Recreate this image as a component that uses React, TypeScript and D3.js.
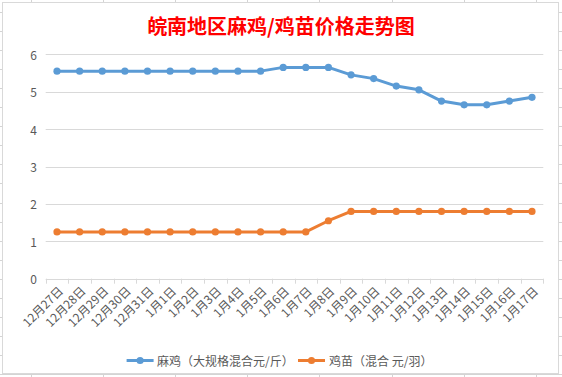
import React from "react";
import * as d3 from "d3";

const categories = [
  "12月27日", "12月28日", "12月29日", "12月30日", "12月31日",
  "1月1日", "1月2日", "1月3日", "1月4日", "1月5日", "1月6日", "1月7日",
  "1月8日", "1月9日", "1月10日", "1月11日", "1月12日", "1月13日",
  "1月14日", "1月15日", "1月16日", "1月17日",
];
const maji = [5.55, 5.55, 5.55, 5.55, 5.55, 5.55, 5.55, 5.55, 5.55, 5.55, 5.65, 5.65, 5.65, 5.45, 5.35, 5.15, 5.05, 4.75, 4.65, 4.65, 4.75, 4.85];
const jimiao = [1.25, 1.25, 1.25, 1.25, 1.25, 1.25, 1.25, 1.25, 1.25, 1.25, 1.25, 1.25, 1.55, 1.8, 1.8, 1.8, 1.8, 1.8, 1.8, 1.8, 1.8, 1.8];
const yTicks = [0, 1, 2, 3, 4, 5, 6];
const seriesNames = ["麻鸡（大规格混合元/斤）", "鸡苗（混合 元/羽）"];
const colors = ["#5b9bd5", "#ed7d31"];
const title = "皖南地区麻鸡/鸡苗价格走势图";

const W = 562, H = 377;
const FONT = "'Noto Sans CJK SC', 'Noto Sans', sans-serif";

export default function App() {
  const x = d3.scaleBand<string>().domain(categories).range([45.7, 543.3]);
  const y = d3.scaleLinear().domain([0, 6]).range([278.7, 54.3]);
  const cx = (c: string) => (x(c) as number) + x.bandwidth() / 2;
  const line = d3.line<number>().x((_, i) => cx(categories[i])).y((v) => y(v));
  const series = [maji, jimiao];

  const sheetCols = d3.range(0, 8).map((k) => 30.5 + 72.2 * k);
  const sheetRows = d3.range(0, 20).map((k) => 12 + 19.05 * k);
  const tickPos = [...categories.map((c) => x(c) as number), 543.3];

  return (
    <svg width={W} height={H} style={{ position: "absolute", left: 0, top: 0, background: "#fff" }} fontFamily={FONT}>
      {sheetCols.map((v, i) => (
        <line key={"sc" + i} x1={Math.round(v) + 0.5} x2={Math.round(v) + 0.5} y1={0} y2={H} stroke="#d4d4d4" />
      ))}
      {sheetRows.map((v, i) => (
        <line key={"sr" + i} y1={Math.round(v) + 0.5} y2={Math.round(v) + 0.5} x1={0} x2={W} stroke="#d4d4d4" />
      ))}
      <rect x={2.5} y={2.5} width={556} height={371} fill="#fff" stroke="#d9d9d9" />

      <text x={281} y={34} textAnchor="middle" fill="#ff0000" fontSize={20} fontWeight="bold">{title}</text>

      {yTicks.map((t) => (
        <g key={"y" + t}>
          <line x1={45.7} x2={543.3} y1={Math.round(y(t)) + 0.5} y2={Math.round(y(t)) + 0.5} stroke="#d9d9d9" />
          <text x={37} y={y(t)} textAnchor="end" dominantBaseline="central" fontSize={12} fill="#595959">{t}</text>
        </g>
      ))}
      {tickPos.map((p, i) => (
        <line key={"t" + i} x1={Math.round(p) + 0.5} x2={Math.round(p) + 0.5} y1={y(0)} y2={y(0) + 5} stroke="#d9d9d9" />
      ))}
      {categories.map((c) => (
        <text key={"x" + c} transform={`translate(${cx(c) + 3},${288}) rotate(-45)`} textAnchor="end" dominantBaseline="central" fontSize={12} fill="#595959">{c}</text>
      ))}

      {series.map((s, si) => (
        <g key={"s" + si}>
          <path d={line(s) || ""} fill="none" stroke={colors[si]} strokeWidth={3} strokeLinejoin="round" />
          {s.map((v, i) => (
            <circle key={i} cx={cx(categories[i])} cy={y(v)} r={3.6} fill={colors[si]} />
          ))}
        </g>
      ))}

      {[{ x0: 126.6, tx: 157 }, { x0: 298, tx: 329 }].map((l, i) => (
        <g key={"l" + i}>
          <line x1={l.x0} x2={l.x0 + 27} y1={360.5} y2={360.5} stroke={colors[i]} strokeWidth={3} />
          <circle cx={l.x0 + 13.5} cy={360.5} r={3.6} fill={colors[i]} />
          <text x={l.tx} y={360.5} dominantBaseline="central" fontSize={12} fill="#595959">{seriesNames[i]}</text>
        </g>
      ))}
    </svg>
  );
}
